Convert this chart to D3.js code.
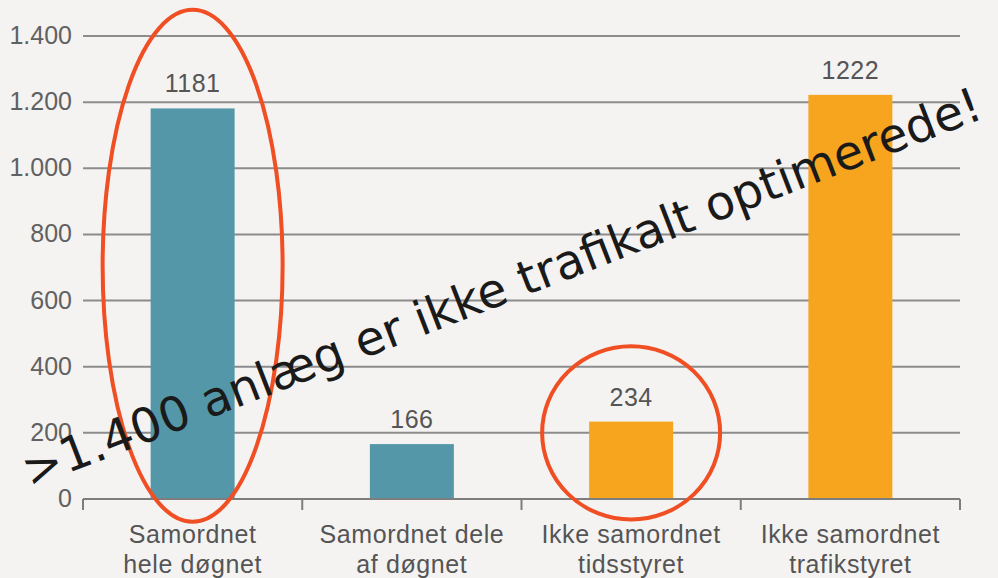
<!DOCTYPE html>
<html>
<head>
<meta charset="utf-8">
<script src="https://cdn.jsdelivr.net/npm/d3@7"></script>
<style>
  html, body { margin: 0; padding: 0; background: #f4f3f1; }
  svg { display: block; }
</style>
</head>
<body>
<svg id="chart" width="998" height="578"></svg>
<script>
// ---- data ----
const categories = [
  ["Samordnet", "hele døgnet"],
  ["Samordnet dele", "af døgnet"],
  ["Ikke samordnet", "tidsstyret"],
  ["Ikke samordnet", "trafikstyret"]
];
const values = [1181, 166, 234, 1222];
const groups = ["Samordnet", "Samordnet", "Ikke samordnet", "Ikke samordnet"];
const yTicks = [0, 200, 400, 600, 800, 1000, 1200, 1400];
const highlighted = [0, 2];
const annotation = ">1.400 anlæg er ikke trafikalt optimerede!";

// ---- layout ----
const W = 998, H = 578;
const mLeft = 83, mRight = 960, mTop = 36, mBottom = 499;

const svg = d3.select("#chart");
svg.append("rect").attr("width", W).attr("height", H).attr("fill", "#f4f3f1");

const x = d3.scaleBand().domain(d3.range(categories.length)).range([mLeft, mRight]).padding(0);
const y = d3.scaleLinear().domain([0, 1400]).range([mBottom, mTop]);
const color = d3.scaleOrdinal().domain(["Samordnet", "Ikke samordnet"]).range(["#5497a9", "#f7a51f"]);

const locale = d3.formatLocale({ decimal: ",", thousands: ".", grouping: [3], currency: ["", ""] });
const fmt = locale.format(",d");

// gridlines
svg.append("g")
  .selectAll("line")
  .data(yTicks.filter(d => d > 0))
  .join("line")
  .attr("x1", mLeft).attr("x2", mRight)
  .attr("y1", d => y(d)).attr("y2", d => y(d))
  .attr("stroke", "#8c8c8c").attr("stroke-width", 2);

// y axis labels
const yAxis = d3.axisLeft(y).tickValues(yTicks).tickFormat(fmt).tickSize(0).tickPadding(11);
const gy = svg.append("g").attr("transform", `translate(${mLeft},0)`).call(yAxis);
gy.select(".domain").remove();
gy.selectAll("text")
  .attr("font-family", "Liberation Sans, Arial, sans-serif")
  .attr("font-size", 25)
  .attr("dy", "0.3em")
  .attr("fill", "#616161");

// bars
const barW = x.bandwidth() * 0.383;
svg.append("g")
  .selectAll("rect")
  .data(values)
  .join("rect")
  .attr("x", (d, i) => x(i) + (x.bandwidth() - barW) / 2)
  .attr("y", d => y(d))
  .attr("width", barW)
  .attr("height", d => y(0) - y(d))
  .attr("fill", (d, i) => color(groups[i]));

// value labels
svg.append("g")
  .selectAll("text")
  .data(values)
  .join("text")
  .attr("x", (d, i) => x(i) + x.bandwidth() / 2)
  .attr("y", d => y(d) - 16)
  .attr("text-anchor", "middle")
  .attr("font-family", "Liberation Sans, Arial, sans-serif")
  .attr("font-size", 25)
  .attr("letter-spacing", 0.5)
  .attr("fill", "#555")
  .text(d => d);

// x axis
const xAxis = d3.axisBottom(x).tickSize(0).tickFormat("");
const gx = svg.append("g").attr("transform", `translate(0,${mBottom})`).call(xAxis);
gx.select(".domain").remove();
gx.append("line").attr("x1", mLeft).attr("x2", mRight).attr("y1", 0).attr("y2", 0)
  .attr("stroke", "#7d7d7d").attr("stroke-width", 2);
const boundaries = d3.range(categories.length + 1).map(i => i < categories.length ? x(i) : mRight);
gx.selectAll("line.tick-b")
  .data(boundaries)
  .join("line")
  .attr("class", "tick-b")
  .attr("x1", d => d).attr("x2", d => d)
  .attr("y1", 0).attr("y2", 11)
  .attr("stroke", "#7d7d7d").attr("stroke-width", 2);

// category labels
const catG = svg.append("g");
categories.forEach((lines, i) => {
  const t = catG.append("text")
    .attr("text-anchor", "middle")
    .attr("font-family", "Liberation Sans, Arial, sans-serif")
    .attr("font-size", 25)
    .attr("letter-spacing", 0.6)
    .attr("fill", "#555");
  lines.forEach((ln, j) => {
    t.append("tspan")
      .attr("x", x(i) + x.bandwidth() / 2)
      .attr("y", 543 + j * 29.5)
      .text(ln);
  });
});

// highlight ellipses
const ellipseSpec = [
  { idx: highlighted[0], yMid: 705, yHalf: 774, rx: 90 },
  { idx: highlighted[1], yMid: 200, yHalf: 262, rx: 89 }
];
svg.append("g")
  .selectAll("ellipse")
  .data(ellipseSpec)
  .join("ellipse")
  .attr("cx", d => x(d.idx) + x.bandwidth() / 2)
  .attr("cy", d => y(d.yMid))
  .attr("rx", d => d.rx)
  .attr("ry", d => y(0) - y(d.yHalf))
  .attr("fill", "none")
  .attr("stroke", "#f04e23")
  .attr("stroke-width", 4);

// rotated annotation
svg.append("text")
  .attr("transform", "translate(30,488) rotate(-21.2)")
  .attr("font-family", "DejaVu Sans, sans-serif")
  .attr("font-size", 47.6)
  .attr("fill", "#1a1a1a")
  .text(annotation);
</script>
</body>
</html>
